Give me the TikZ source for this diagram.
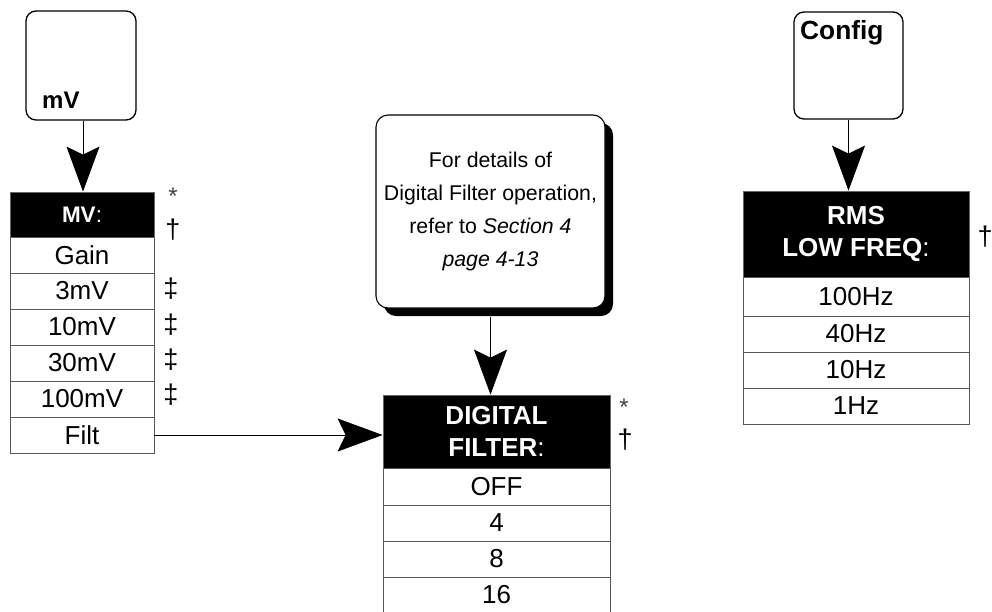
\documentclass[tikz,border=0pt]{standalone}
\usepackage{fontspec}
\setmainfont{Liberation Sans}
\usetikzlibrary{arrows.meta,shadows}
\begin{document}
\begin{tikzpicture}[x=1pt,y=-1pt,
  bigarrow/.style={-{Stealth[length=45pt,width=33pt,inset=8pt]}, line width=0.8pt},
  keybox/.style={draw, line width=1.3pt, rounded corners=10pt, inner sep=0pt},
  hdr/.style={fill=black, draw=black!60, line width=0.8pt, text=white, inner sep=0pt, align=center},
  rowbox/.style={draw=black!65, line width=0.8pt, inner sep=0pt, font=\fontsize{26}{30}\selectfont},
  sym/.style={inner sep=0pt, font=\fontsize{27}{30}\selectfont},
  star/.style={inner sep=0pt, font=\fontsize{24}{26}\selectfont, text=black!75}
]
\useasboundingbox (0,0) rectangle (992,611);

% ---------- mV key and MV menu ----------
\node[keybox, minimum width=110pt, minimum height=109pt] (mvkey) at (81,65.5) {};
\node[anchor=base west, inner sep=0pt, font=\fontsize{24}{27}\selectfont\bfseries] (mvlabel) at (42,108) {mV};

\node[hdr, minimum width=144pt, minimum height=45pt, font=\fontsize{22.5}{26}\selectfont] (mvh) at (82,214.5) {\textbf{MV}:};
\node[rowbox, minimum width=144pt, minimum height=36pt] (gain) at (82,255) {Gain};
\node[rowbox, minimum width=144pt, minimum height=36pt] (r3) at (82,291) {3mV};
\node[rowbox, minimum width=144pt, minimum height=36pt] (r10) at (82,327) {10mV};
\node[rowbox, minimum width=144pt, minimum height=36pt] (r30) at (82,363) {30mV};
\node[rowbox, minimum width=144pt, minimum height=36pt] (r100) at (82,399) {100mV};
\node[rowbox, minimum width=144pt, minimum height=36pt] (filt) at (82,435) {Filt};

\node[star] (mvstar) at (173,196) {*};
\node[sym] (mvdag) at (173,230) {†};
\node[sym] (dd1) at (171,289) {‡};
\node[sym] (dd2) at (171,325) {‡};
\node[sym] (dd3) at (171,360) {‡};
\node[sym] (dd4) at (171,395) {‡};

\draw[bigarrow] (mvkey.south -| 83,0) -- (mvh.north -| 83,0);

% ---------- Note ----------
\node[draw, line width=1.1pt, rounded corners=12pt, fill=white,
      drop shadow={shadow xshift=8pt, shadow yshift=-8pt, opacity=1, fill=black},
      minimum width=229pt, minimum height=193pt, align=center, inner sep=0pt,
      font=\fontsize{21.3}{33.3}\selectfont] (note) at (490.5,211.5)
  {For details of\\Digital Filter operation,\\refer to \textit{Section 4}\\\textit{page 4-13}};

% ---------- Digital filter menu ----------
\node[hdr, minimum width=227pt, minimum height=73pt, font=\fontsize{26}{32}\selectfont] (dfh) at (496.5,431.5) {\textbf{DIGITAL}\\\textbf{FILTER}:};
\node[rowbox, minimum width=227pt, minimum height=37pt] (off) at (496.5,486.5) {OFF};
\node[rowbox, minimum width=227pt, minimum height=36pt] (f4) at (496.5,523) {4};
\node[rowbox, minimum width=227pt, minimum height=36pt] (f8) at (496.5,559) {8};
\node[rowbox, minimum width=227pt, minimum height=36pt] (f16) at (496.5,595) {16};

\node[star] (dfstar) at (624,407) {*};
\node[sym] (dfdag) at (625,440) {†};

\draw[bigarrow] (note.south) ++(0,8) coordinate (noteout) -- (noteout |- dfh.north);
\draw[bigarrow] (filt.east) -- (filt.east -| dfh.west);

% ---------- Config key and RMS menu ----------
\node[keybox, minimum width=109pt, minimum height=107pt] (cfgkey) at (848.5,65.5) {};
\node[anchor=base west, inner sep=0pt, font=\fontsize{26.3}{29}\selectfont\bfseries] (cfglabel) at (800,39.5) {Config};

\node[hdr, minimum width=226pt, minimum height=86pt, font=\fontsize{26}{32}\selectfont] (rmsh) at (856,234) {\textbf{RMS}\\\textbf{LOW FREQ}:};
\node[rowbox, minimum width=226pt, minimum height=39pt] (hz100) at (856,296.5) {100Hz};
\node[rowbox, minimum width=226pt, minimum height=36pt] (hz40) at (856,334) {40Hz};
\node[rowbox, minimum width=226pt, minimum height=36pt] (hz10) at (856,370) {10Hz};
\node[rowbox, minimum width=226pt, minimum height=36pt] (hz1) at (856,406) {1Hz};

\node[sym] (rmsdag) at (985,237) {†};

\draw[bigarrow] (cfgkey.south) -- (cfgkey.south |- rmsh.north);
\end{tikzpicture}
\end{document}
